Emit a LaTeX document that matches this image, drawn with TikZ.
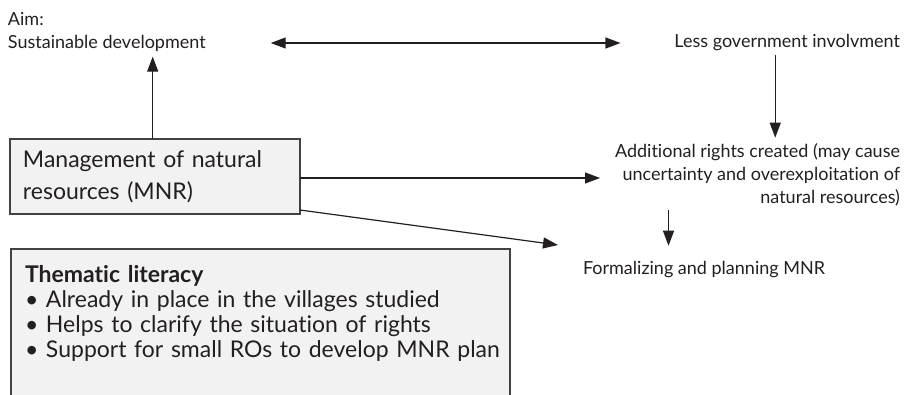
\documentclass[tikz,border=0pt]{standalone}
\usepackage{fontspec}
\setmainfont{Lato}[Ligatures=NoCommon]
\usetikzlibrary{arrows.meta,calc}
\definecolor{boxfill}{HTML}{F2F2F2}
\definecolor{ink}{HTML}{231F20}
\begin{document}
\begin{tikzpicture}[x=1pt,y=-1pt,
  every node/.style={inner sep=0pt, outer sep=0pt, text=ink},
  smalltxt/.style={font=\fontsize{18}{23}\selectfont},
  boxtxt/.style={font=\fontsize{23}{32}\selectfont},
  listtxt/.style={font=\fontsize{23}{25}\selectfont},
  graybox/.style={draw=ink!85, line width=1.2pt, fill=boxfill},
  conn/.style={draw=ink, line width=1.2pt, -{Triangle[length=15pt,width=11pt]}},
  dconn/.style={draw=ink, line width=1.2pt, {Triangle[length=15pt,width=11pt]}-{Triangle[length=15pt,width=11pt]}}
]
\useasboundingbox (0,0) rectangle (906,395);

\node[smalltxt, align=left, anchor=west] (aim) at (8,32) {Aim:\\Sustainable development};
\node[smalltxt, anchor=east] (less) at (900,43) {Less government involvment};
\node[smalltxt, align=right, anchor=east] (add) at (900,175)
  {Additional rights created (may cause\\uncertainty and overexploitation of\\natural resources)};
\node[smalltxt, anchor=west] (form) at (583,270) {Formalizing and planning MNR};

\node[graybox, boxtxt, anchor=north west, text width=264pt, inner xsep=13pt,
      minimum height=75pt, align=left] (mnr) at (10,139)
  {Management of natural\\resources (MNR)};

\node[graybox, listtxt, anchor=north west, text width=471pt, inner xsep=14pt,
      inner ysep=16.5pt, align=left] (them) at (11,249)
  {\textbf{Thematic literacy}\\
   • Already in place in the villages studied\\
   • Helps to clarify the situation of rights\\
   \mbox{• Support for small ROs to develop MNR plan}\rule[-80pt]{0pt}{80pt}};

\coordinate (dl) at ($(aim.east)+(65,11)$);
\coordinate (dr) at ($(less.west)+(-54,0)$);
\draw[dconn] (dl) -- (dr);

\coordinate (ua) at ($(mnr.north)+(-2.3,0)$);
\coordinate (ub) at ($(aim.south)+(0,5)$);
\draw[conn] (ua) -- (ua |- ub);

\coordinate (la) at ($(less.south)+(-12,3.5)$);
\coordinate (lb) at ($(add.north)+(0,-6)$);
\draw[conn] (la) -- (la |- lb);

\draw[conn, shorten >=15pt] ($(mnr.east)+(0,1.5)$) -- ($(mnr.east -| add.west)+(0,1.5)$);
\draw[conn] ($(mnr.south east)+(0,-4)$) -- ($(form.west)+(-25,-25)$);

\coordinate (fa) at ($(add.south)+(-89,4)$);
\coordinate (fb) at ($(form.north)+(0,-16)$);
\draw[conn] (fa) -- (fa |- fb);
\end{tikzpicture}
\end{document}
